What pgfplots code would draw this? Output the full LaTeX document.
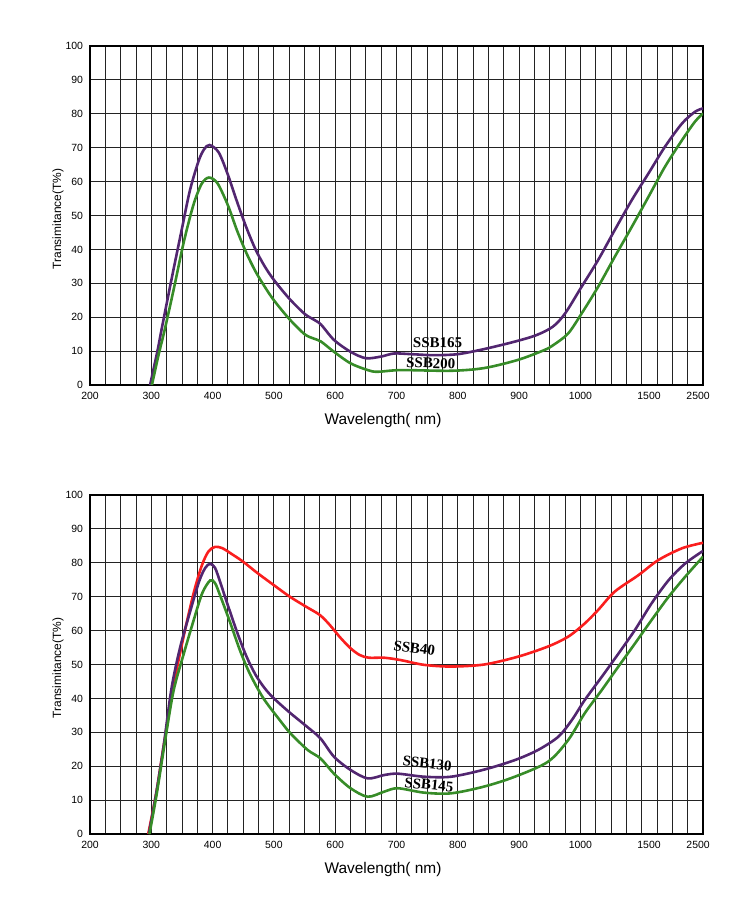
\documentclass[border=0pt]{standalone}
\usepackage{fontspec}
\setmainfont{Liberation Sans}
\newfontfamily\labfont{Liberation Serif}
\usepackage{pgfplots}
\pgfplotsset{compat=1.18}
\definecolor{cpurple}{RGB}{82,38,112}
\definecolor{cgreen}{RGB}{55,140,40}
\definecolor{cred}{RGB}{250,30,30}
\definecolor{cgrid}{RGB}{35,35,35}
\tikzset{lab/.style={font=\labfont\bfseries\fontsize{15}{15}\selectfont}}
\pgfplotsset{
 mystyle/.style={
  scale only axis, width=613bp, height=339bp,
  xmin=200, xmax=1200, ymin=0, ymax=100,
  xtick={200,300,400,500,600,700,800,900,1000,1112,1192},
  xticklabels={200,300,400,500,600,700,800,900,1000,1500,2500},
  minor xtick={200,225,...,1200},
  ytick={0,10,...,100},
  xmajorgrids=false, xminorgrids=true, ymajorgrids=true,
  major tick length=0pt, minor tick length=0pt,
  grid style={cgrid, line width=0.9bp},
  minor grid style={cgrid, line width=0.9bp},
  axis line style={black, line width=2.8bp},
  tick label style={font=\fontsize{10.5}{12}\selectfont},
  /pgf/number format/assume math mode=true,
  xticklabel style={yshift=-3.5bp},
  yticklabel style={xshift=-3.5bp},
  xlabel={Wavelength( nm)},
  xlabel style={at={(axis description cs:0.478,-0.106)}, anchor=center, font=\fontsize{15.5}{17}\selectfont},
  ylabel={Transimitance(T\%)},
  ylabel style={at={(axis description cs:-0.0522,0.49)}, anchor=center, font=\fontsize{12}{14}\selectfont},
 },
 curve/.style={line width=2.6bp, smooth, tension=0.5, no marks},
}
\begin{document}
\begin{tikzpicture}
\path[use as bounding box] (0,0) rectangle (750bp,-906bp);
% ---------------- top chart
\begin{axis}[mystyle, at={(90bp,-46bp)}, anchor=north west]
\addplot[curve, cpurple] coordinates {
(298,0) (310,10) (317,16.6) (333,31.2) (349.5,45.7) (363,57.4) (377,66) (386,69.5) (395,70.8)
(410,68.6) (425,62) (440,54) (455,46.5) (470,40) (485,35) (500,31) (525,25.5) (550,21)
(565,19.3) (577,17.8) (598,13.3) (625,9.8) (650,7.9) (675,8.4) (696,9.3) (724,9.1)
(761,8.8) (800,9.1) (843,10.6) (893,12.8) (928,14.7) (955,17.2) (975,21.1) (1002,29) (1029,36.9)
(1056,45.7) (1084,54.6) (1111,62.4) (1138,70.3) (1166,77.2) (1187,80.6) (1200,81.6)};
\addplot[curve, cgreen] coordinates {
(301,0) (312,9) (322,16.4) (337,28.6) (352.5,41.8) (368.5,53) (382,59.3) (394,61.2) (408,59.5)
(425,53) (440,45.5) (455,39) (470,33.5) (485,29) (500,25) (525,19.5) (550,15)
(565,13.7) (577,12.8) (598,9.8) (625,6.4) (653,4.4) (669,3.9) (707,4.4) (789,4.2) (843,5)
(898,7.4) (941,10.3) (956,11.8) (980,15.2) (1002,21.1) (1029,29) (1056,37.8) (1084,46.7)
(1111,55.5) (1138,64.4) (1166,72.3) (1187,77.7) (1200,80.1)};
\node[lab, rotate=-1] at (axis cs:767,12.5) {SSB165};
\node[lab, rotate=-2] at (axis cs:756,6.4) {SSB200};
\end{axis}
% ---------------- bottom chart
\begin{axis}[mystyle, at={(90bp,-495bp)}, anchor=north west]
\addplot[curve, cred] coordinates {
(295,0) (308,12) (320,25.8) (336,43.5) (353,58.5) (369,71) (382,79) (393,83.3) (404,84.7)
(416,84.3) (432,82.5) (450,80.3) (473,77) (500,73.4) (526,70) (553,67) (575,64.6) (591,61.7)
(608,58) (625,54.8) (640,52.8) (655,52) (680,52) (707,51.3) (745,49.9) (789,49.4) (843,50)
(898,52.3) (947,55.3) (980,58.2) (1007,62.1) (1029,66.1) (1056,71.5) (1095,76.4) (1127,80.8)
(1166,84.3) (1200,85.9)};
\addplot[curve, cpurple] coordinates {
(296,0) (308,12) (320,25.8) (333,43) (347,55) (363,65.4) (378,74.5) (388,78.5) (396,79.7)
(404,78.5) (412,74.5) (423,68.5) (440,59.5) (455,52.5) (470,47) (485,43) (500,40) (526,35.8) (553,31.8)
(576,28.2) (598,22.8) (625,18.9) (653,16.4) (680,17.4) (702,17.8) (745,16.9) (789,16.9) (843,19)
(893,21.8) (931,24.8) (964,28.7) (986,33.6) (1007,39.5) (1035,46.4) (1062,53.2) (1089,60.2)
(1116,68) (1144,74.9) (1171,79.8) (1200,83.5)};
\addplot[curve, cgreen] coordinates {
(297,0) (309,12) (321,25.8) (336,42) (353,53.2) (369,63) (383,71) (396,74.8) (404,74)
(412,70.5) (428,62.7) (445,54) (461,47.2) (483,40) (510,33.5) (527,29.7) (555,24.8) (576,22.3)
(598,17.8) (625,13.5) (653,11) (680,12.5) (702,13.5) (745,12.2) (789,12) (843,14) (893,16.9)
(947,21.3) (980,27.7) (1007,35.6) (1035,42.5) (1062,49.4) (1089,56.2) (1116,63.1) (1144,70)
(1171,75.9) (1200,81.8)};
\node[lab, rotate=-8] at (axis cs:729,54.8) {SSB40};
\node[lab, rotate=-6] at (axis cs:750,20.8) {SSB130};
\node[lab, rotate=-6] at (axis cs:753,14.5) {SSB145};
\end{axis}
\end{tikzpicture}
\end{document}
